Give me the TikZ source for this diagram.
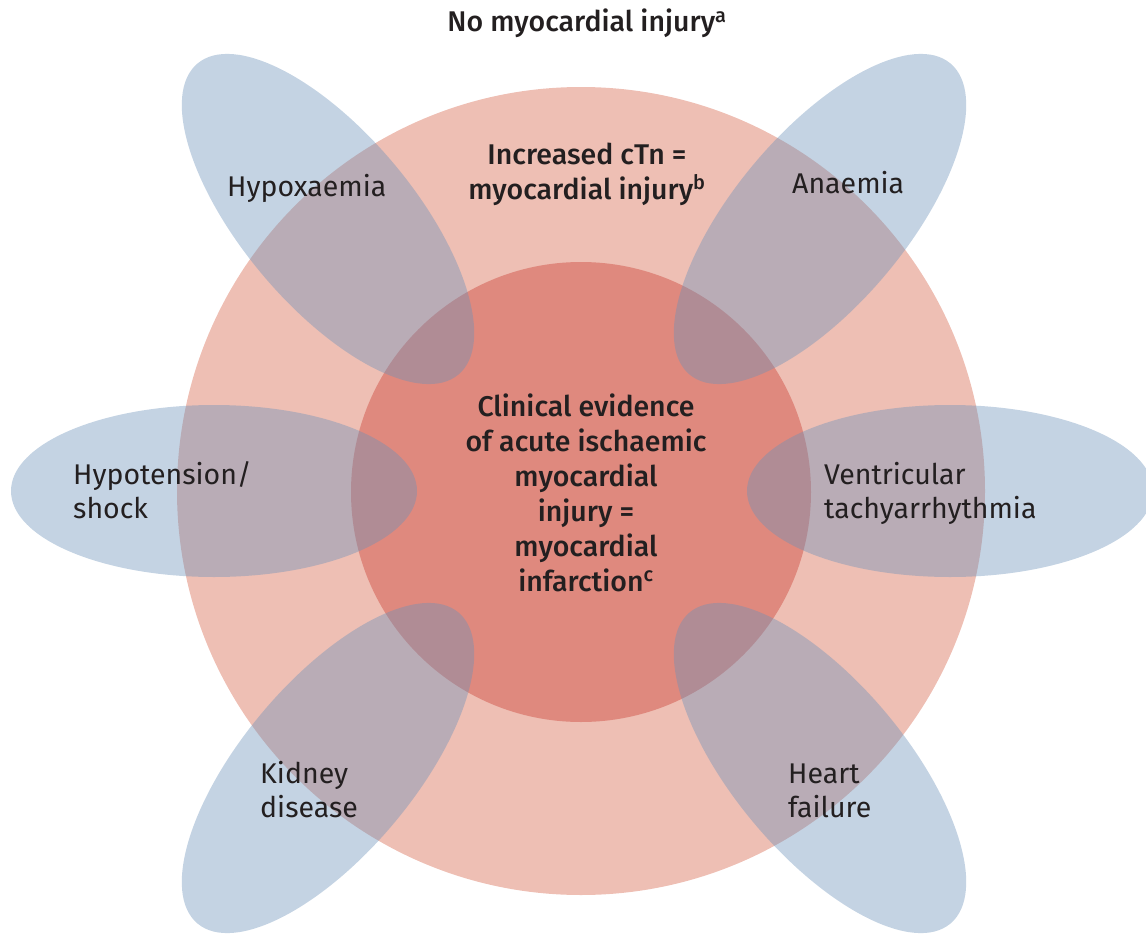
\documentclass[tikz,border=0pt]{standalone}
\usepackage{fontspec}
\setmainfont{Fira Sans}[BoldFont={Fira Sans Medium}]
\usepackage{tikz}
\usetikzlibrary{shapes.geometric}
\definecolor{InjuryRose}{HTML}{EEBFB4}
\definecolor{InfarctRed}{HTML}{DF897E}
\definecolor{CauseBlue}{HTML}{6B91B9}
\definecolor{Ink}{HTML}{231F20}

\begin{document}
\begin{tikzpicture}[x=1pt,y=-1pt,
  disc/.style={circle,inner sep=0pt},
  petal/.style={ellipse,fill=CauseBlue,fill opacity=0.4,minimum width=406pt,minimum height=172pt,inner sep=0pt},
  cause/.style={align=left,anchor=base west,inner sep=0pt,text=Ink,font=\fontsize{28.5}{34}\selectfont},
  zone/.style={align=center,anchor=base,inner sep=0pt,text=Ink,font=\fontsize{28.5}{35}\selectfont\bfseries}]
  \useasboundingbox (0,0) rectangle (1146,934);
  % the two zones
  \node[disc,fill=InjuryRose,minimum size=808pt] (injury) at (581,491) {};
  \node[disc,fill=InfarctRed,minimum size=460pt] (infarct) at (581,492) {};
  % causes of injury
  \node[petal,rotate=-50] (hypox) at (328,219) {};
  \node[petal,rotate=50] (anaem) at (820,219) {};
  \node[petal] (hypot) at (214,491) {};
  \node[petal] (ventr) at (950,491) {};
  \node[petal,rotate=50] (kidney) at (328,768) {};
  \node[petal,rotate=-50] (heart) at (820,768) {};
  % texts (base = last line)
  \node[zone] (noinj) at (587,32) {No myocardial injury\textsuperscript{a}};
  \node[zone] (inctn) at (587,199) {Increased cTn =\\myocardial injury\textsuperscript{b}};
  \node[zone] (clin) at (586,591) {Clinical evidence\\of acute ischaemic\\myocardial\\injury =\\myocardial\\infarction\textsuperscript{c}};
  \node[cause] (hypoxtxt) at (227,196) {Hypoxaemia};
  \node[cause] (anaemtxt) at (792,193) {Anaemia};
  \node[cause] (hypottxt) at (73,518) {Hypotension/\\shock};
  \node[cause] (ventrtxt) at (824,518) {Ventricular\\tachyarrhythmia};
  \node[cause] (kidneytxt) at (260,817) {Kidney\\disease};
  \node[cause] (hearttxt) at (788,817) {Heart\\failure};
\end{tikzpicture}
\end{document}
